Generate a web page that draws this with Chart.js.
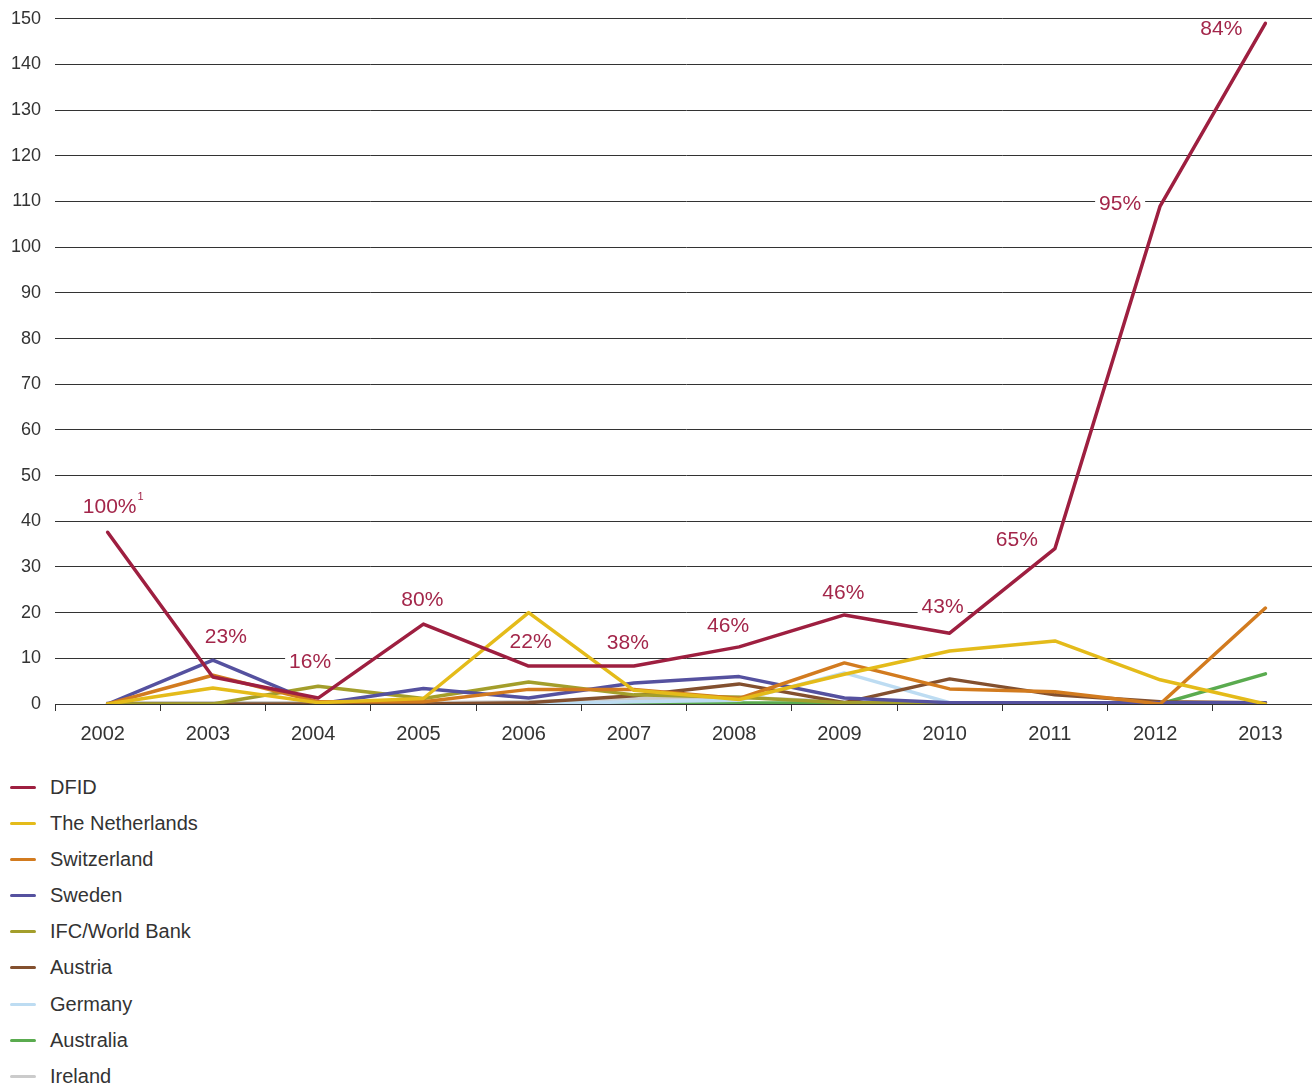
<!DOCTYPE html>
<html>
<head>
<meta charset="utf-8">
<script src="https://cdn.jsdelivr.net/npm/chart.js@4/dist/chart.umd.min.js"></script>
<style>
  html, body { margin: 0; padding: 0; background: #fff; overflow: hidden; }
  #wrap { position: relative; width: 1312px; height: 1086px; overflow: hidden; }
  #c { position: absolute; left: 0; top: -6px; }
  #legend { position: absolute; left: 0; top: 770px; font-family: "Liberation Sans", Arial, sans-serif; font-size: 20px; color: #333; }
  .item { position: relative; height: 36.1px; }
  .item .sw { position: absolute; left: 10px; top: 16px; width: 26px; height: 3px; border-radius: 2px; }
  .item .tx { position: absolute; left: 50px; top: 6px; white-space: nowrap; }
</style>
</head>
<body>
<div id="wrap">
  <canvas id="c" width="1318" height="766"></canvas>
  <div id="legend"></div>
</div>
<script>
const years = ['2002','2003','2004','2005','2006','2007','2008','2009','2010','2011','2012','2013'];
const seriesNames = ['DFID','The Netherlands','Switzerland','Sweden','IFC/World Bank','Austria','Germany','Australia','Ireland'];
const dfid        = [37.6, 5.9, 1.3, 17.5, 8.3, 8.3, 12.5, 19.5, 15.5, 34, 109, 149];
const netherlands = [0, 3.5, 0.3, 1.2, 20, 3, 1, 6.5, 11.6, 13.8, 5.3, 0];
const switzerland = [0, 6.3, 0.5, 0.5, 3.2, 3.2, 1.2, 9, 3.3, 2.7, 0, 21];
const sweden      = [0, 9.6, 0, 3.4, 1.3, 4.6, 6, 1.3, 0.3, 0.3, 0.3, 0.3];
const ifc         = [0, 0, 3.9, 1.2, 4.8, 2, 1.5, 0.3, 0.3, 0.3, 0.3, 0.3];
const austria     = [0, 0, 0, 0, 0.3, 1.8, 4.4, 0.3, 5.5, 2, 0.5, 0.3];
const germany     = [0, 0, 0, 0, 0, 0.5, 0.8, 6.8, 0.3, 0.3, 0.3, 0.3];
const australia   = [0, 0, 0, 0, 0, 0.2, 0.2, 0.2, 0, 0, 0, 6.6];
const ireland     = [0.3, 0.3, 0.3, 0.3, 0.5, 1.2, 1.5, 0.5, 0.3, 0.3, 0.3, 0.3];
const dfidShareLabels = ['100%','23%','16%','80%','22%','38%','46%','46%','43%','65%','95%','84%'];
const dfidFootnotes   = ['1','','','','','','','','','','',''];
const yTicks = [0,10,20,30,40,50,60,70,80,90,100,110,120,130,140,150];

const colors = ['#9e1f40','#e4bb1a','#d27b1f','#55519f','#a39e2b','#83502f','#bddcf2','#5aab4f','#cbcbcb'];
const allData = [dfid, netherlands, switzerland, sweden, ifc, austria, germany, australia, ireland];

// label offsets from the DFID point (pixels)
const labelOffsets = [[2,-25],[13,-40],[-8,-36],[-1,-24],[2,-24],[-6,-23],[-11,-21],[-1,-22],[-7,-26],[-38,-8],[-40,-2],[-44,6]];
const LABEL_FONT = '21px "Liberation Sans", Arial, sans-serif';

const labelPlugin = {
  id: 'dfidLabels',
  beforeDatasetsDraw(chart) {
    const ctx = chart.ctx;
    const xs = chart.scales.x, ys = chart.scales.y;
    ctx.save();
    ctx.font = LABEL_FONT;
    ctx.textAlign = 'center';
    ctx.textBaseline = 'middle';
    dfidShareLabels.forEach((t, i) => {
      const px = xs.getPixelForValue(i) + labelOffsets[i][0];
      const py = ys.getPixelForValue(dfid[i]) + labelOffsets[i][1];
      const w = ctx.measureText(t).width;
      ctx.fillStyle = '#ffffff';
      ctx.fillRect(px - w/2 - 4, py - 8, w + 8, 17);
      ctx.fillStyle = '#a3264a';
      ctx.fillText(t, px, py);
      if (dfidFootnotes[i]) {
        ctx.font = '11px "Liberation Sans", Arial, sans-serif';
        ctx.textAlign = 'left';
        ctx.fillText(dfidFootnotes[i], px + w/2 + 1, py - 10);
        ctx.font = LABEL_FONT;
        ctx.textAlign = 'center';
      }
    });
    ctx.restore();
  }
};

new Chart(document.getElementById('c'), {
  type: 'line',
  data: {
    labels: years,
    datasets: allData.map((d, i) => ({
      label: seriesNames[i],
      data: d,
      borderColor: colors[i],
      backgroundColor: colors[i],
      borderWidth: 3.5,
      pointRadius: 0,
      tension: 0,
      borderJoinStyle: 'round',
      borderCapStyle: 'round',
      fill: false
    }))
  },
  options: {
    responsive: false,
    animation: false,
    devicePixelRatio: 1,
    layout: { padding: { top: 12, right: 0, left: 0, bottom: 0 } },
    plugins: { legend: { display: false }, tooltip: { enabled: false } },
    scales: {
      x: {
        offset: true,
        grid: { display: true, offset: true, drawOnChartArea: false, drawTicks: true, tickLength: 7, color: '#333', lineWidth: 1 },
        border: { display: true, color: '#333', width: 1 },
        ticks: { color: '#333', font: { family: '"Liberation Sans", Arial, sans-serif', size: 20 }, padding: 11, maxRotation: 0, labelOffset: -5 },
        afterFit(scale) { scale.height = 56; }
      },
      y: {
        min: 0, max: 150,
        afterBuildTicks(scale) { scale.ticks = yTicks.map(v => ({ value: v })); },
        grid: { color: '#333', lineWidth: 1, drawTicks: false },
        border: { display: false },
        ticks: { color: '#333', font: { family: '"Liberation Sans", Arial, sans-serif', size: 18 }, padding: 14 },
        afterFit(scale) { scale.width = 55; }
      }
    }
  },
  plugins: [labelPlugin]
});

const lg = document.getElementById('legend');
seriesNames.forEach((n, i) => {
  const it = document.createElement('div');
  it.className = 'item';
  it.innerHTML = '<span class="sw" style="background:' + colors[i] + '"></span><span class="tx">' + n + '</span>';
  lg.appendChild(it);
});
</script>
</body>
</html>
